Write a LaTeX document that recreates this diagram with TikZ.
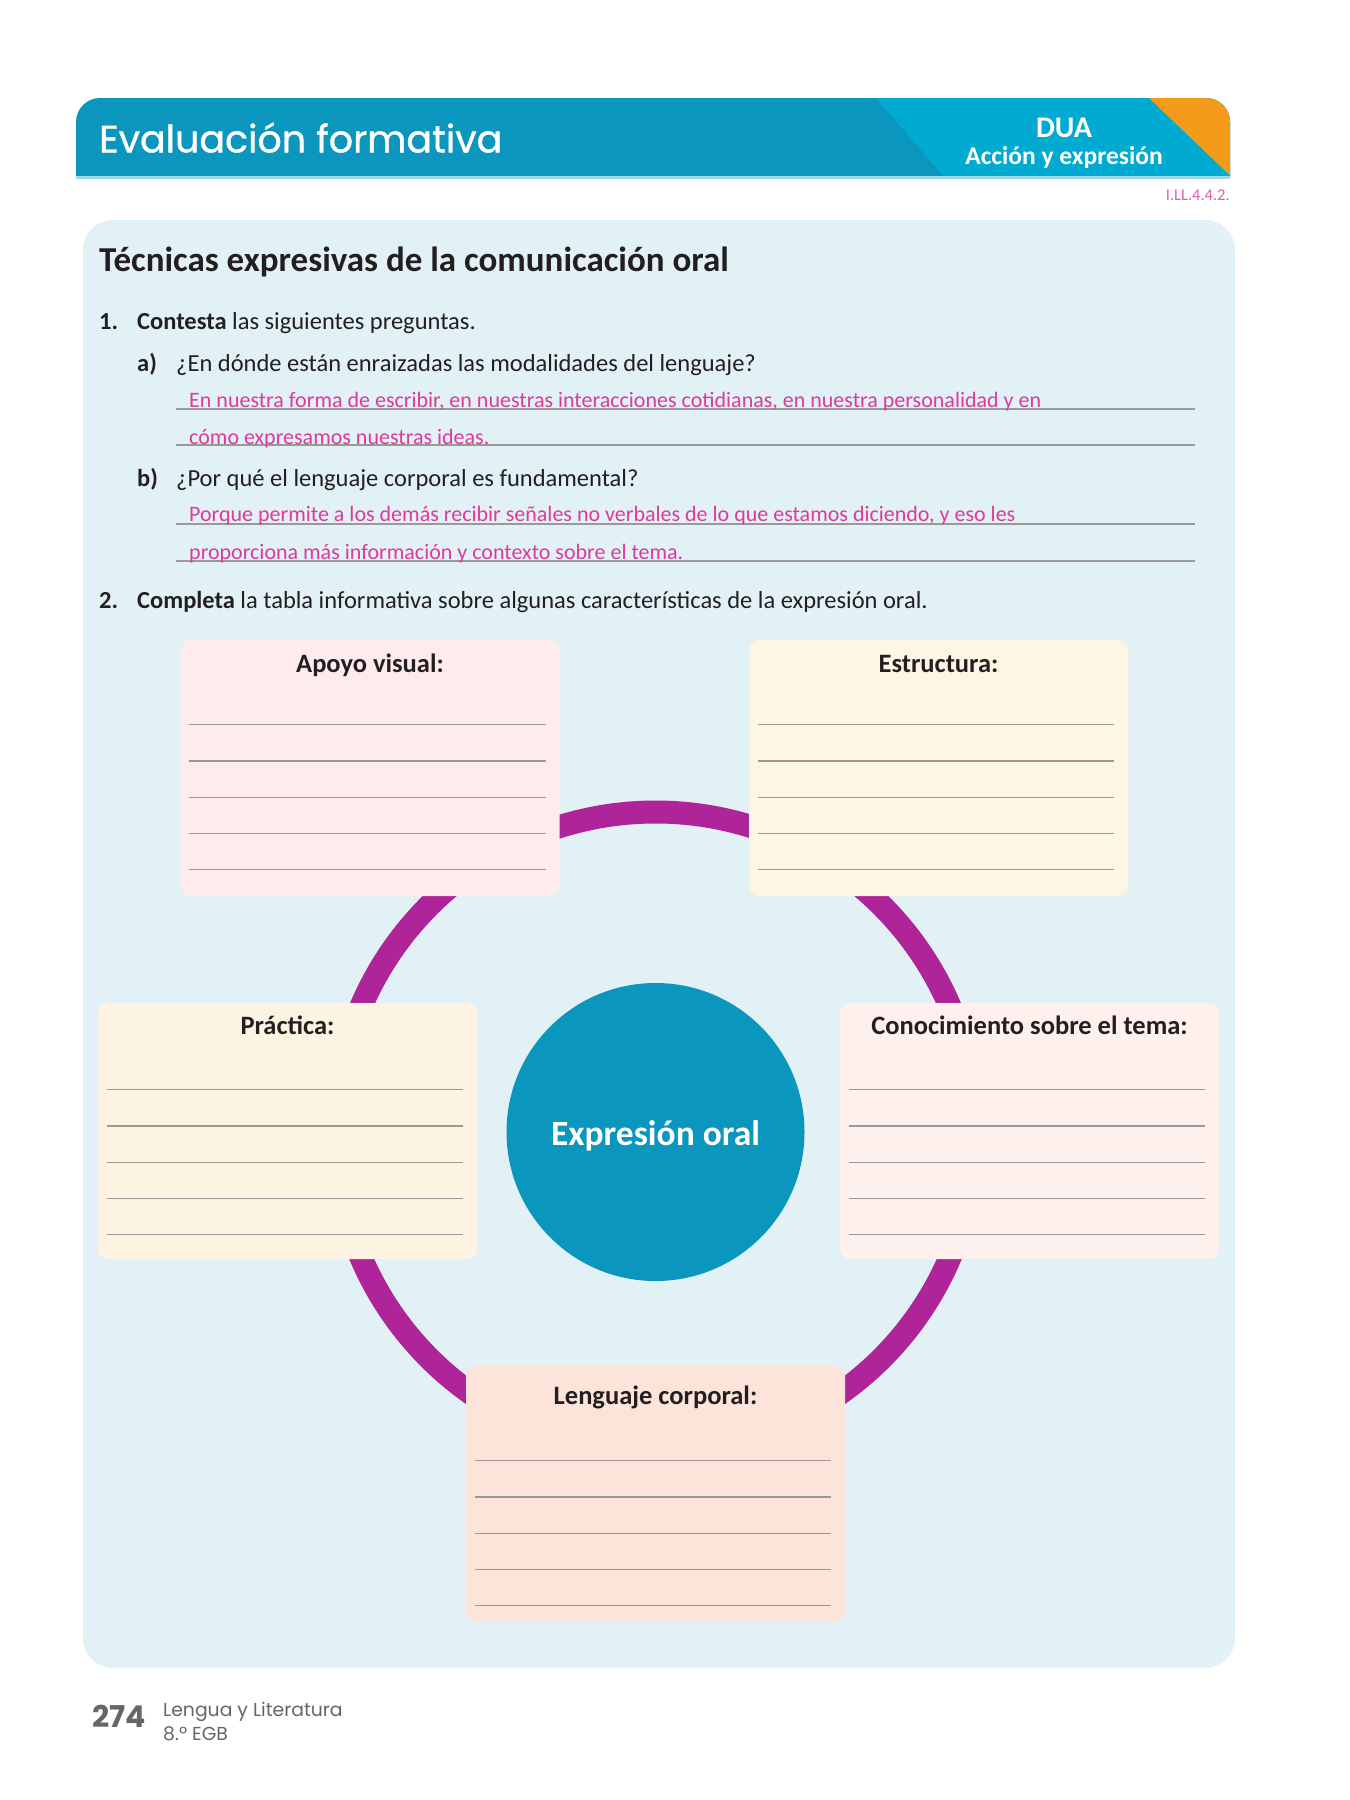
\documentclass[tikz,border=0pt]{standalone}
\usepackage{fontspec}
\setmainfont{Carlito}
\newfontfamily\geo{Poppins}
\newfontfamily\geomed[FakeBold=1]{Poppins}
\definecolor{hdark}{HTML}{0A96BD}
\definecolor{hlight}{HTML}{00AAD0}
\definecolor{horange}{HTML}{F49B1B}
\definecolor{hline}{HTML}{9ED9EA}
\definecolor{panel}{HTML}{E2F1F6}
\definecolor{ink}{HTML}{231F20}
\definecolor{pinkans}{HTML}{DE3A9C}
\definecolor{codepink}{HTML}{E060AC}
\definecolor{rulec}{HTML}{999999}
\definecolor{ringc}{HTML}{B0249A}
\definecolor{bxpink}{HTML}{FDEBEE}
\definecolor{bxcream}{HTML}{FEF5E4}
\definecolor{bxcreamb}{HTML}{FDF3E3}
\definecolor{bxrose}{HTML}{FEF0EC}
\definecolor{bxpeach}{HTML}{FDE4DB}
\definecolor{footc}{HTML}{666666}
\tikzset{
  txt/.style={anchor=mid west, inner sep=0, text=ink, font=\fontsize{24.5}{29}\selectfont},
  txtb/.style={txt, font=\bfseries\fontsize{24.5}{29}\selectfont},
  ans/.style={anchor=mid west, inner sep=0, text=pinkans, font=\fontsize{22}{26}\selectfont},
  rulel/.style={draw=rulec, line width=1.3},
  card/.style={rectangle, rounded corners=10, minimum width=379, minimum height=256, inner sep=0},
  cardtitle/.style={anchor=mid, inner sep=0, text=ink, font=\bfseries\fontsize{26.5}{30}\selectfont},
  ring/.style={draw=ringc, line width=23},
}
\begin{document}
\begin{tikzpicture}[x=1pt,y=-1pt]
\useasboundingbox (0,0) rectangle (1350,1800);
\fill[white] (0,0) rectangle (1350,1800);
% header band
\begin{scope}
\clip (76,178) -- (76,122) arc[start angle=180, end angle=270, radius=24]
      -- (1206,98) arc[start angle=270, end angle=360, radius=24] -- (1230,178) -- cycle;
\fill[hdark] (70,90) rectangle (1240,180);
\fill[hlight] (869,90) -- (1240,90) -- (1240,180) -- (947,180) -- cycle;
\fill[horange] (1149,98) -- (1240,98) -- (1240,185) -- cycle;
\end{scope}
\fill[hline] (76,176) rectangle (1230,178.5);
\node[anchor=mid west, inner sep=0, text=white, font=\geomed\fontsize{38}{43}\selectfont] (evtitle) at (99,150) {Evaluación formativa};
\node[anchor=mid, inner sep=0, text=white, font=\bfseries\fontsize{30}{34}\selectfont] (dua) at (1064,135) {DUA};
\node[anchor=mid, inner sep=0, text=white, font=\bfseries\fontsize{25.5}{28}\selectfont] (accion) at (1064,162) {Acción y expresión};
\node[anchor=mid east, inner sep=0, text=codepink, font=\fontsize{16.5}{18}\selectfont] (code) at (1230,198) {I.LL.4.4.2.};
% panel
\fill[panel, rounded corners=30] (83,220) rectangle (1235,1668);
\node[anchor=mid west, inner sep=0, text=ink, font=\bfseries\fontsize{35}{40}\selectfont] (sect) at (99,269) {Técnicas expresivas de la comunicación oral};
% question 1
\node[txtb] (n1) at (99,327) {1.};
\node[txt] (q1) at (137,327) {\textbf{Contesta} las siguientes preguntas.};
\node[txtb] (la) at (137,369) {a)};
\node[txt] (qa) at (176,369) {¿En dónde están enraizadas las modalidades del lenguaje?};
\draw[rulel] (176,409) -- (1195,409);
\draw[rulel] (176,445) -- (1195,445);
\node[ans] (a1) at (189,405) {En nuestra forma de escribir, en nuestras interacciones cotidianas, en nuestra personalidad y en};
\node[ans] (a2) at (189,442) {cómo expresamos nuestras ideas.};
\node[txtb] (lb) at (137,484) {b)};
\node[txt] (qb) at (176,484) {¿Por qué el lenguaje corporal es fundamental?};
\draw[rulel] (176,524) -- (1195,524);
\draw[rulel] (176,561) -- (1195,561);
\node[ans] (b1) at (189,519) {Porque permite a los demás recibir señales no verbales de lo que estamos diciendo, y eso les};
\node[ans] (b2) at (189,557) {proporciona más información y contexto sobre el tema.};
% question 2
\node[txtb] (n2) at (99,606) {2.};
\node[txt] (q2) at (137,606) {\textbf{Completa} la tabla informativa sobre algunas características de la expresión oral.};
% ring
\coordinate (hub) at (655.5,1132);
\draw[ring] (hub) circle[radius=320];
% cards
\node[card, fill=bxpink] (apoyo) at (370,768) {};
\node[card, fill=bxcream] (estruct) at (938.5,768) {};
\node[card, fill=bxcreamb] (practica) at (287.5,1131) {};
\node[card, fill=bxrose] (conoc) at (1029.5,1131) {};
\node[card, fill=bxpeach] (lenguaje) at (655.5,1494) {};
\node[cardtitle] (apoyoT) at ([yshift=-30]apoyo.north) {Apoyo visual:};
\node[cardtitle] (estructT) at ([yshift=-30]estruct.north) {Estructura:};
\node[cardtitle] (practicaT) at ([yshift=-29]practica.north) {Práctica:};
\node[cardtitle] (conocT) at ([yshift=-29]conoc.north) {Conocimiento sobre el tema:};
\node[cardtitle] (lenguajeT) at ([yshift=-36]lenguaje.north) {Lenguaje corporal:};
\foreach \c/\o in {apoyo/85, estruct/85, practica/87, conoc/87, lenguaje/95} {
  \foreach \k in {0,...,4} {
    \draw[rulel] ([xshift=9, yshift={-(\o+36.2*\k)}]\c.north west) -- ([xshift=-14, yshift={-(\o+36.2*\k)}]\c.north east);
  }
}
% core
\node[circle, fill=hdark, minimum size=298, inner sep=0] (core) at (hub) {};
\node[anchor=mid, inner sep=0, text=white, font=\bfseries\fontsize{35.5}{40}\selectfont] (coreT) at ([yshift=-11]core.center) {Expresión oral};
% footer
\node[anchor=mid west, inner sep=0, text=footc, font=\geo\bfseries\fontsize{30}{32}\selectfont] (page) at (92,1725) {274};
\node[anchor=mid west, inner sep=0, text=footc, font=\geo\fontsize{18.8}{21}\selectfont] (subj) at (163,1714) {Lengua y Literatura};
\node[anchor=mid west, inner sep=0, text=footc, font=\geo\fontsize{18.8}{21}\selectfont] (grade) at (163,1738) {8.º EGB};
\end{tikzpicture}
\end{document}
